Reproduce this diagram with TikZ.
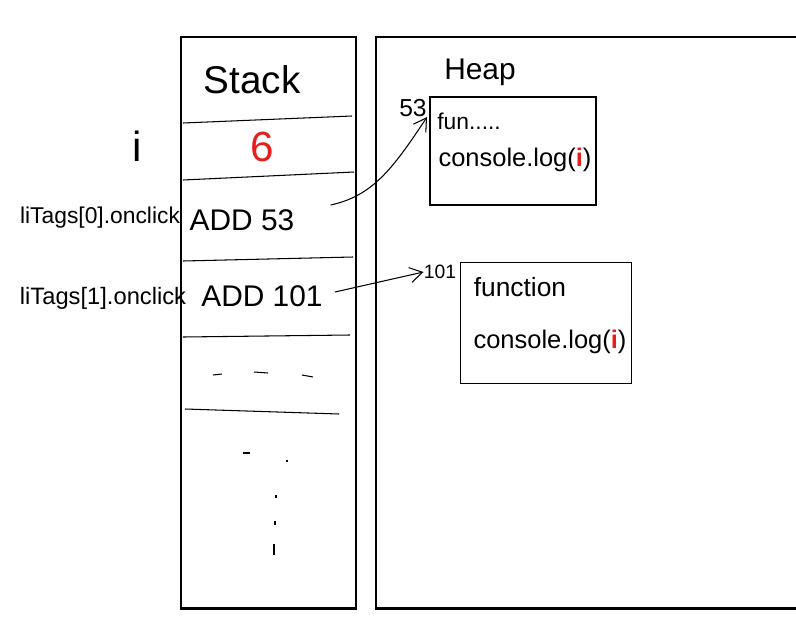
\documentclass[tikz,border=0pt]{standalone}
\usepackage{fontspec}
\setmainfont{Liberation Sans}
\usepackage{xcolor}
\usetikzlibrary{arrows.meta,positioning,calc}
\definecolor{inkred}{RGB}{230,30,30}
\begin{document}
\begin{tikzpicture}[x=0.02cm, y=-0.02cm,
  frame/.style={line width=1.7pt},
  cellline/.style={line width=0.6pt},
  txt/.style={inner sep=0pt, font=\fontsize{#1}{#1}\selectfont},
  heapbox/.style={draw, line width=0.6pt, inner sep=0pt},
  arr/.style={-{Straight Barb[length=2.5mm, width=3mm]}, line width=0.6pt}]
\useasboundingbox (0,0) rectangle (796,633);
% outer frames
\draw[frame] (181,37) rectangle (356,608);
\draw[frame] (800,37) -| (376,608) -- (800,608);
% stack
\node[txt=22] (stk) at (252,80) {Stack};
\draw[cellline] (183,123) -- (352,116);
\node[txt=24, text=inkred] (six) at (262,147) {6};
\draw[cellline] (183,180) -- (354,172);
\node[txt=17] (add53) at (242,220) {ADD 53};
\draw[cellline] (183,261) -- (353,257);
\node[txt=17] (add101) at (262,296) {ADD 101};
\draw[cellline] (183,337) -- (350,335);
\draw[cellline] (213,375) -- (222,374) (254,372) -- (268,373) (302,375) -- (313,377);
\draw[cellline] (185,409) -- (339,414);
\draw[cellline] (243,453) -- (250,453) (287,460) -- (287,462);
\draw[cellline] (276,495) -- (276,498) (275,521) -- (275,525) (274,544) -- (274,555);
% left labels
\node[txt=24] (vari) at (137,146) {i};
\node[txt=13] (li0) at (100,218) {liTags[0].onclick};
\node[txt=13.5] (li1) at (103,298) {liTags[1].onclick};
% heap
\node[txt=17] (heap) at (480,72) {Heap};
\node[heapbox, minimum width=3.32cm, minimum height=2.16cm] (fn1) at (513,151) {};
\node[txt=14] (adr53) at (413,108) {53};
\node[txt=13, anchor=west] (fun) at (437,121) {fun.....};
\node[txt=14.5] (log1) at (515,160) {console.log(\textcolor{inkred}{\textbf{i}})};
\node[heapbox, minimum width=3.42cm, minimum height=2.42cm] (fn2) at (546,323) {};
\node[txt=11] (adr101) at (440,272) {101};
\node[txt=15] (func) at (520,287) {function};
\node[txt=14.5] (log2) at (550,342) {console.log(\textcolor{inkred}{\textbf{i}})};
% references
\draw[arr] ($(add53.east)+(36,-15)$) .. controls (372,196) and (392,170) .. (adr53.south east);
\draw[arr] ($(add101.east)+(12,-4)$) -- (adr101.west);
\end{tikzpicture}
\end{document}
